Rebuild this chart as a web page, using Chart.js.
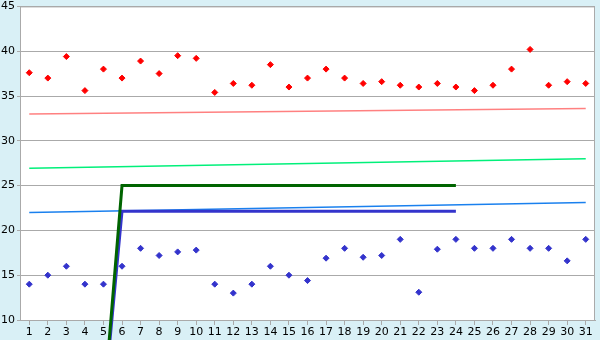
<!DOCTYPE html>
<html>
<head>
    <title>Chart</title>
    <style>
        body { margin: 0; padding: 0; background-color: #d9f0f6; }
        #wrap { width: 600px; height: 340px; }
    </style>
    <script src="https://cdn.jsdelivr.net/npm/chart.js"></script>
</head>
<body>
<div id="wrap"><canvas id="myChart"></canvas></div>
<script>
    // categories 1..31
    const days = ['1','2','3','4','5','6','7','8','9','10','11','12','13','14','15','16',
                  '17','18','19','20','21','22','23','24','25','26','27','28','29','30','31'];

    // upper points (red)
    const upperValues = [37.6, 37.0, 39.4, 35.6, 38.0, 37.0, 38.9, 37.5, 39.5, 39.2,
                         35.4, 36.4, 36.2, 38.5, 36.0, 37.0, 38.0, 37.0, 36.4, 36.6,
                         36.2, 36.0, 36.4, 36.0, 35.6, 36.2, 38.0, 40.2, 36.2, 36.6, 36.4];

    // lower points (blue)
    const lowerValues = [14.0, 15.0, 16.0, 14.0, 14.0, 16.0, 18.0, 17.2, 17.6, 17.8,
                         14.0, 13.0, 14.0, 16.0, 15.0, 14.4, 16.9, 18.0, 17.0, 17.2,
                         19.0, 13.1, 17.9, 19.0, 18.0, 18.0, 19.0, 18.0, 18.0, 16.6, 19.0];

    // trend lines: start (day 1) and end (day 31)
    const redTrend = [33.0, 33.6];
    const greenTrend = [26.95, 28.0];
    const blueTrend = [22.0, 23.1];

    // step lines: day -> value
    const greenStepDays = ['5', '6', '24'];
    const greenStepValues = [0, 25, 25];
    const blueStepDays = ['5', '6', '24'];
    const blueStepValues = [0, 22.15, 22.15];

    const yTicks = [10, 15, 20, 25, 30, 35, 40, 45];

    const pairs = (xs, ys) => xs.map((x, i) => ({ x: x, y: ys[i] }));
    const ends = (v) => [{ x: days[0], y: v[0] }, { x: days[days.length - 1], y: v[1] }];

    const background = {
        id: 'background',
        beforeDraw(chart) {
            const c = chart.ctx, a = chart.chartArea;
            c.save();
            c.fillStyle = '#d9f0f6';
            c.fillRect(0, 0, chart.width, chart.height);
            c.fillStyle = '#ffffff';
            c.fillRect(a.left, a.top, a.right - a.left, a.bottom - a.top);
            c.restore();
        },
        beforeDatasetsDraw(chart) {
            const c = chart.ctx, a = chart.chartArea;
            c.save();
            c.strokeStyle = '#aaaaaa';
            c.lineWidth = 1;
            c.strokeRect(a.left + 0.5, a.top + 0.5, a.right - a.left - 1, a.bottom - a.top);
            c.restore();
        }
    };

    const lineDs = (data, color, width, order) => ({
        data: data,
        borderColor: color,
        borderWidth: width,
        pointRadius: 0,
        fill: false,
        tension: 0,
        clip: false,
        order: order
    });

    new Chart(document.getElementById('myChart').getContext('2d'), {
        type: 'line',
        data: {
            labels: days,
            datasets: [
                lineDs(pairs(greenStepDays, greenStepValues), '#006400', 3, 1),
                lineDs(pairs(blueStepDays, blueStepValues), '#3434cc', 3, 2),
                lineDs(ends(redTrend), '#ff8080', 1.5, 5),
                lineDs(ends(greenTrend), '#00f07a', 1.5, 5),
                lineDs(ends(blueTrend), '#1a80ee', 1.5, 5),
                {
                    data: upperValues,
                    showLine: false,
                    pointStyle: 'rectRot',
                    pointRadius: 3,
                    pointBackgroundColor: '#ff0000',
                    pointBorderColor: '#ff0000',
                    pointBorderWidth: 1,
                    order: 3
                },
                {
                    data: lowerValues,
                    showLine: false,
                    pointStyle: 'rectRot',
                    pointRadius: 3,
                    pointBackgroundColor: '#3333cc',
                    pointBorderColor: '#3333cc',
                    pointBorderWidth: 1,
                    order: 3
                }
            ]
        },
        options: {
            responsive: true,
            maintainAspectRatio: false,
            animation: false,
            layout: { padding: { top: 0, right: 5, left: 0, bottom: 0 } },
            plugins: {
                legend: { display: false },
                tooltip: { enabled: false }
            },
            scales: {
                x: {
                    offset: true,
                    grid: { drawOnChartArea: false, offset: false, tickLength: 5, color: '#aaaaaa' },
                    border: { color: '#aaaaaa' },
                    ticks: { color: '#000', font: { family: 'DejaVu Sans', size: 11 }, padding: 1, maxRotation: 0, autoSkip: false },
                    afterFit(s) { s.height = 20; }
                },
                y: {
                    min: 10,
                    max: 45,
                    afterBuildTicks(s) { s.ticks = yTicks.map(v => ({ value: v })); },
                    grid: { color: '#aaaaaa', tickLength: 3 },
                    border: { color: '#aaaaaa' },
                    ticks: { color: '#000', font: { family: 'DejaVu Sans', size: 11, lineHeight: 0.8 }, padding: 2 },
                    afterFit(s) { s.width = 20; }
                }
            }
        },
        plugins: [background]
    });
</script>
</body>
</html>
